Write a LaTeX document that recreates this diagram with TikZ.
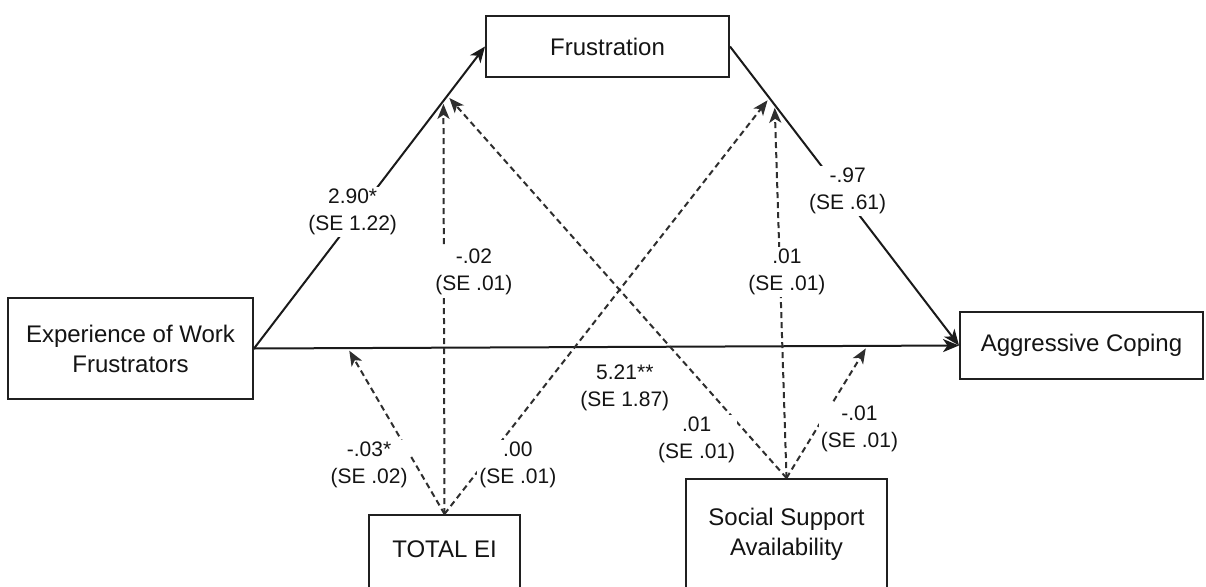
\documentclass[tikz,border=0pt]{standalone}
\usepackage{fontspec}
\setmainfont{Liberation Sans}
\usetikzlibrary{arrows.meta}
\definecolor{boxc}{HTML}{202020}
\definecolor{linec}{HTML}{1A1A1A}
\definecolor{dashc}{HTML}{2E2E2E}
\definecolor{txtc}{HTML}{141414}
\begin{document}
\begin{tikzpicture}[x=1pt,y=-1pt,
  box/.style={draw=boxc, line width=2pt, fill=white, inner sep=0pt,
    font=\fontsize{24}{30}\selectfont, align=center, text=txtc},
  solidarrow/.style={draw=linec, line width=2pt,
    -{Stealth[length=16pt,width=13pt,inset=4.5pt]}},
  modarrow/.style={draw=dashc, line width=2pt, dash pattern=on 6pt off 4pt,
    -{Stealth[length=15pt,width=12pt,inset=4pt]}, shorten >=3pt},
  coef/.style={fill=white, inner sep=2pt, font=\fontsize{21}{27}\selectfont,
    align=center, text=txtc}
]
\useasboundingbox (0,0) rectangle (1206,586);
\clip (0,0) rectangle (1206,586);
\fill[white] (0,0) rectangle (1206,586);

% boxes
\node[box, minimum width=245pt, minimum height=101pt] (exp) at (130.5,348.5)
  {Experience of Work\\Frustrators};
\node[box, minimum width=243pt, minimum height=61pt] (frus) at (607.5,46.5)
  {Frustration};
\node[box, minimum width=243pt, minimum height=67pt] (agg) at (1081.5,345.5)
  {Aggressive Coping};
\node[box, minimum width=151pt, minimum height=80pt, anchor=north,
  label={[font=\fontsize{24}{30}\selectfont, text=txtc, yshift=6pt]center:TOTAL EI}]
  (tei) at (444.5,514) {};
\node[box, minimum width=201pt, minimum height=116pt, anchor=north,
  label={[font=\fontsize{24}{30}\selectfont, text=txtc, align=center, yshift=3pt]center:Social Support\\Availability}]
  (ssa) at (786.5,478) {};

% main paths
\draw[solidarrow] (exp.east) -- coordinate[pos=0.82] (m1) coordinate[pos=0.837] (m2) (frus.west)
  node[coef, pos=0.453, xshift=-6pt] {2.90*\\(SE 1.22)};
\draw[solidarrow] (exp.east) -- coordinate[pos=0.133] (m3) coordinate[pos=0.87] (m6) (agg.west)
  node[coef, pos=0.526, yshift=-41pt] {5.21**\\(SE 1.87)};
\draw[solidarrow] (frus.east) -- coordinate[pos=0.172] (m4) coordinate[pos=0.195] (m5) (agg.west)
  node[coef, pos=0.483, xshift=7pt] {-.97\\(SE .61)};

% moderation paths: TOTAL EI
\draw[modarrow] (tei.north) -- (m1)
  node[coef, pos=0.586, xshift=30pt] {-.02\\(SE .01)};
\draw[modarrow] (tei.north) -- (m3)
  node[coef, pos=0.294, xshift=-47pt] {-.03*\\(SE .02)};
\draw[modarrow] (tei.north) -- (m4)
  node[coef, pos=0.118, xshift=35pt] {.00\\(SE .01)};

% moderation paths: Social Support
\draw[modarrow] (ssa.north) -- (m5)
  node[coef, pos=0.552, xshift=7pt] {.01\\(SE .01)};
\draw[modarrow] (ssa.north) -- (m2)
  node[coef, pos=0.0996, xshift=-56pt] {.01\\(SE .01)};
\draw[modarrow] (ssa.north) -- (m6)
  node[coef, pos=0.371, xshift=43pt] {-.01\\(SE .01)};
\end{tikzpicture}
\end{document}
